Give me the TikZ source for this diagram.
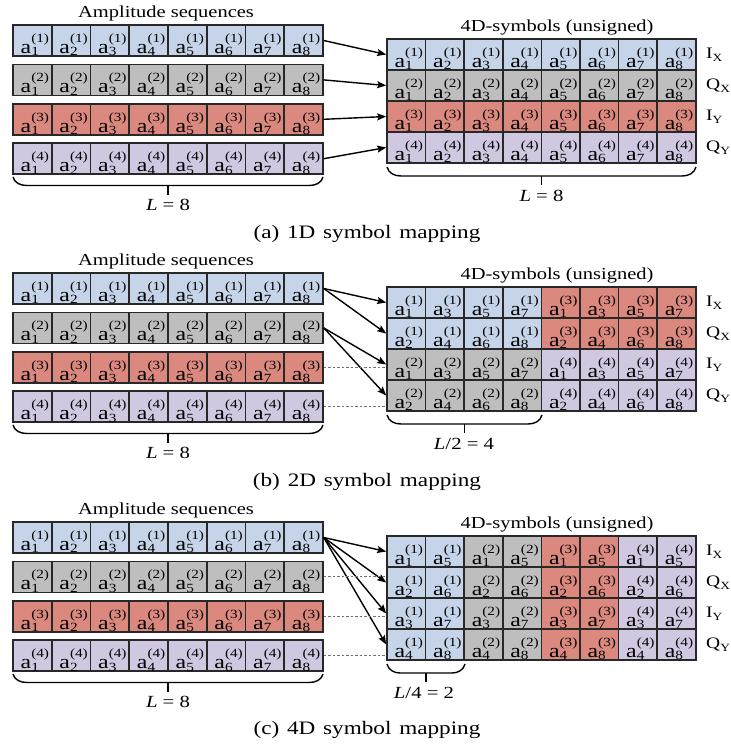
\documentclass[tikz,border=0pt]{standalone}
\usepackage{fontspec}
\setmainfont{Liberation Serif}[FakeStretch=1.22]
\usetikzlibrary{arrows.meta}
\definecolor{cblue}{RGB}{197,212,232}
\definecolor{cgray}{RGB}{190,190,190}
\definecolor{cred}{RGB}{219,136,126}
\definecolor{cpurp}{RGB}{208,199,224}
\definecolor{bd}{RGB}{40,40,40}
\newcommand{\cel}[2]{\hspace*{5pt}\fontsize{19.5}{19.5}\selectfont a\rlap{\raisebox{-2.5pt}{\fontsize{12.5}{12.5}\selectfont #1}}\raisebox{11pt}{\fontsize{12.5}{12.5}\selectfont(#2)}}
\newcommand{\rowlab}[2]{\fontsize{16}{16}\selectfont #1\raisebox{-3pt}{\fontsize{11}{11}\selectfont #2}}
\newcommand{\wsp}{\ \hspace{2pt}}
\tikzset{
  cellbox/.style={draw=bd, line width=1.5pt, minimum width=38.7pt, minimum height=31pt,
    inner sep=0pt, text height=25.6pt, text depth=0pt},
  titletext/.style={font=\fontsize{16.8}{18}\selectfont, inner sep=0pt},
  captext/.style={font=\fontsize{19}{21}\selectfont, inner sep=0pt},
  bracetext/.style={font=\fontsize{17}{18}\selectfont, inner sep=0pt},
  labtext/.style={anchor=west, inner sep=0pt},
  arr/.style={line width=1.4pt, black, -{Stealth[length=9pt,width=7pt,inset=1.5pt]}},
  dsh/.style={line width=0.9pt, black!55, dash pattern=on 2.5pt off 2pt},
  bracepath/.style={line width=1.4pt, black}
}
\begin{document}
\begin{tikzpicture}[x=1pt,y=-1pt]
\useasboundingbox (0,0) rectangle (731,745);
% ---------------- left blocks (all sections) ----------------
\foreach \s/\Y in {a/0,b/248,c/497} {
  \foreach \r/\col in {1/cblue,2/cgray,3/cred,4/cpurp} {
    \foreach \c in {1,...,8} {
      \node[cellbox, fill=\col] (\s L\r c\c) at ({13+38.75*(\c-0.5)},{\Y+25+39.4*(\r-1)+15.5}) {\cel{\c}{\r}};
    }
  }
  \node[titletext] (\s ttlA) at (166,\Y+13) {Amplitude sequences};
  \node[titletext] (\s ttlB) at (557,\Y+27) {4D-symbols (unsigned)};
  \foreach \r/\a/\b in {1/I/X,2/Q/X,3/I/Y,4/Q/Y} {
    \node[labtext] (\s lab\r) at (706,{\Y+39+31*(\r-1)+15.5}) {\rowlab{\a}{\b}};
  }
  % left brace
  \draw[bracepath] (13,\Y+177) to[out=-75,in=180] (27,\Y+185.5) -- (309,\Y+185.5) to[out=0,in=-105] (323,\Y+177);
  \draw[bracepath] (168,\Y+185.5) -- (168,\Y+195);
  \node[bracetext] (\s lenL) at (168,\Y+205) {\textit{L} = 8};
}
% ---------------- right block (a) ----------------
\foreach \r/\col in {1/cblue,2/cgray,3/cred,4/cpurp} {
  \foreach \c in {1,...,8} {
    \node[cellbox, fill=\col] (aR\r c\c) at ({387+38.6*(\c-0.5)},{39+31*(\r-1)+15.5}) {\cel{\c}{\r}};
  }
}
% ---------------- right block (b) ----------------
\foreach \r/\fa/\sa/\fb/\sb/\o in {1/cblue/1/cred/3/1,2/cblue/1/cred/3/0,3/cgray/2/cpurp/4/1,4/cgray/2/cpurp/4/0} {
  \foreach \c in {1,...,4} {
    \pgfmathtruncatemacro{\k}{2*\c-\o}
    \pgfmathtruncatemacro{\cc}{\c+4}
    \node[cellbox, fill=\fa] (bR\r c\c) at ({387+38.6*(\c-0.5)},{248+39+31*(\r-1)+15.5}) {\cel{\k}{\sa}};
    \node[cellbox, fill=\fb] (bR\r c\cc) at ({387+38.6*(\cc-0.5)},{248+39+31*(\r-1)+15.5}) {\cel{\k}{\sb}};
  }
}
% ---------------- right block (c) ----------------
\foreach \r in {1,...,4} {
  \foreach \p/\col in {1/cblue,2/cgray,3/cred,4/cpurp} {
    \pgfmathtruncatemacro{\rr}{\r+4}
    \pgfmathtruncatemacro{\ci}{2*\p-1}
    \pgfmathtruncatemacro{\cj}{2*\p}
    \node[cellbox, fill=\col] (cR\r c\ci) at ({387+38.6*(\ci-0.5)},{497+39+31*(\r-1)+15.5}) {\cel{\r}{\p}};
    \node[cellbox, fill=\col] (cR\r c\cj) at ({387+38.6*(\cj-0.5)},{497+39+31*(\r-1)+15.5}) {\cel{\rr}{\p}};
  }
}
% ---------------- connectors ----------------
\foreach \r in {1,...,4} { \draw[arr] (aL\r c8.east) -- (aR\r c1.west); }
\draw[arr] (bL1c8.east) -- (bR1c1.west);
\draw[arr] (bL1c8.east) -- (bR2c1.west);
\draw[arr] (bL2c8.east) -- (bR3c1.west);
\draw[arr] (bL2c8.east) -- (bR4c1.west);
\draw[dsh] (bL3c8.east) -- (bL3c8.east -| bR3c1.west);
\draw[dsh] (bL4c8.east) -- (bL4c8.east -| bR4c1.west);
\foreach \r in {1,...,4} { \draw[arr] (cL1c8.east) -- (cR\r c1.west); }
\foreach \r in {2,3,4} { \draw[dsh] (cL\r c8.east) -- (cL\r c8.east -| cR1c1.west); }
% ---------------- right braces ----------------
\draw[bracepath] (387,167) to[out=-75,in=180] (401,176) -- (682,176) to[out=0,in=-105] (696,167);
\draw[bracepath] (541.5,176) -- (541.5,185);
\node[bracetext] (aLenR) at (541.5,196) {\textit{L} = 8};
\draw[bracepath] (387,415) to[out=-75,in=180] (401,424) -- (528,424) to[out=0,in=-105] (542,415);
\draw[bracepath] (464.5,424) -- (464.5,433);
\node[bracetext] (bLenR) at (464,444) {\textit{L}/2 = 4};
\draw[bracepath] (387,664) to[out=-75,in=180] (400,673) -- (452,673) to[out=0,in=-105] (465,664);
\draw[bracepath] (426,673) -- (426,682);
\node[bracetext] (cLenR) at (424,693) {\textit{L}/4 = 2};
% ---------------- captions ----------------
\node[captext] (capA) at (367,234) {(a)\wsp 1D\wsp symbol\wsp mapping};
\node[captext] (capB) at (367,482) {(b)\wsp 2D\wsp symbol\wsp mapping};
\node[captext] (capC) at (367,730) {(c)\wsp 4D\wsp symbol\wsp mapping};
\end{tikzpicture}
\end{document}
